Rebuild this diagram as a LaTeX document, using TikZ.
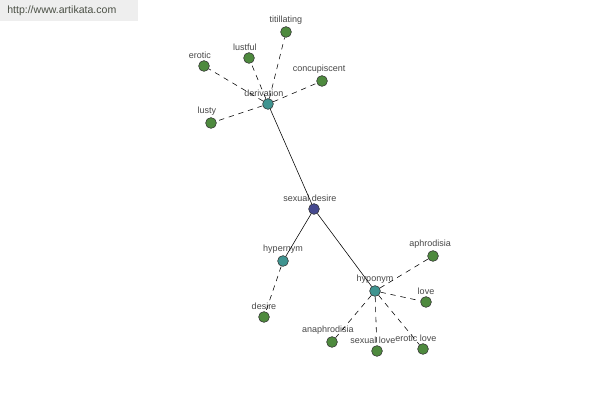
\documentclass[tikz,border=0pt]{standalone}
\usepackage{fontspec}
\setmainfont{Liberation Sans}
\usepackage{tikz}
\usetikzlibrary{positioning}
\definecolor{leafgreen}{HTML}{4E8A3E}
\definecolor{hubteal}{HTML}{3F9490}
\definecolor{rootblue}{HTML}{46498F}
\definecolor{bannergray}{HTML}{EEEEEE}
\definecolor{bannertext}{HTML}{4A4F44}

\begin{document}
\begin{tikzpicture}[
    x=0.025cm, y=-0.025cm,
    word/.style={circle, draw=black!80, line width=0.4pt, inner sep=0pt, minimum size=0.27cm},
    leaf/.style={word, fill=leafgreen},
    hub/.style={word, fill=hubteal},
    root/.style={word, fill=rootblue},
    lbl/.style={font=\fontsize{6.4}{7.5}\selectfont, text=black!72, inner sep=1pt, label distance=0pt},
    rel/.style={draw=black, line width=0.4pt},
    syn/.style={draw=black, line width=0.4pt, dash pattern=on 3.8pt off 3.4pt}
]
    \useasboundingbox (0,0) rectangle (600,400);
    \fill[bannergray] (0,0) rectangle (138,21);
    \node[anchor=west, font=\fontsize{7.5}{9}\selectfont, text=bannertext, inner sep=0pt] (site) at (7,11) {http://www.artikata.com};

    % centre and relation hubs
    \node[root, label={[lbl, xshift=-3pt]above:sexual desire}] (sd) at (314,209) {};
    \node[hub, label={[lbl, xshift=-3pt]above:derivation}] (deriv) at (268,104) {};
    \node[hub, label={[lbl]above:hypernym}] (hyper) at (283,261) {};
    \node[hub, label={[lbl]above:hyponym}] (hypo) at (375,291) {};

    % derivation words
    \node[leaf, label={[lbl]above:titillating}] (titil) at (286,32) {};
    \node[leaf, label={[lbl, xshift=-3pt]above:erotic}] (erotic) at (204,66) {};
    \node[leaf, label={[lbl, xshift=-3pt]above:lustful}] (lustful) at (249,58) {};
    \node[leaf, label={[lbl, xshift=-2pt]above:concupiscent}] (concup) at (322,81) {};
    \node[leaf, label={[lbl, xshift=-3pt]above:lusty}] (lusty) at (211,123) {};

    % hypernym / hyponym words
    \node[leaf, label={[lbl]above:desire}] (desire) at (264,317) {};
    \node[leaf, label={[lbl, xshift=-2pt]above:aphrodisia}] (aphro) at (433,256) {};
    \node[leaf, label={[lbl]above:love}] (love) at (426,302) {};
    \node[leaf, label={[lbl, xshift=-3pt]above:anaphrodisia}] (anaphro) at (332,342) {};
    \node[leaf, label={[lbl, xshift=-3pt]above:sexual love}] (sexlove) at (377,351) {};
    \node[leaf, label={[lbl, xshift=-5pt]above:erotic love}] (erolove) at (423,349) {};

    \draw[rel] (sd) -- (deriv);
    \draw[rel] (sd) -- (hyper);
    \draw[rel] (sd) -- (hypo);
    \foreach \w in {titil, erotic, lustful, concup, lusty}
        \draw[syn] (deriv) -- (\w);
    \draw[syn] (hyper) -- (desire);
    \foreach \w in {aphro, love, anaphro, sexlove, erolove}
        \draw[syn] (hypo) -- (\w);
\end{tikzpicture}
\end{document}
